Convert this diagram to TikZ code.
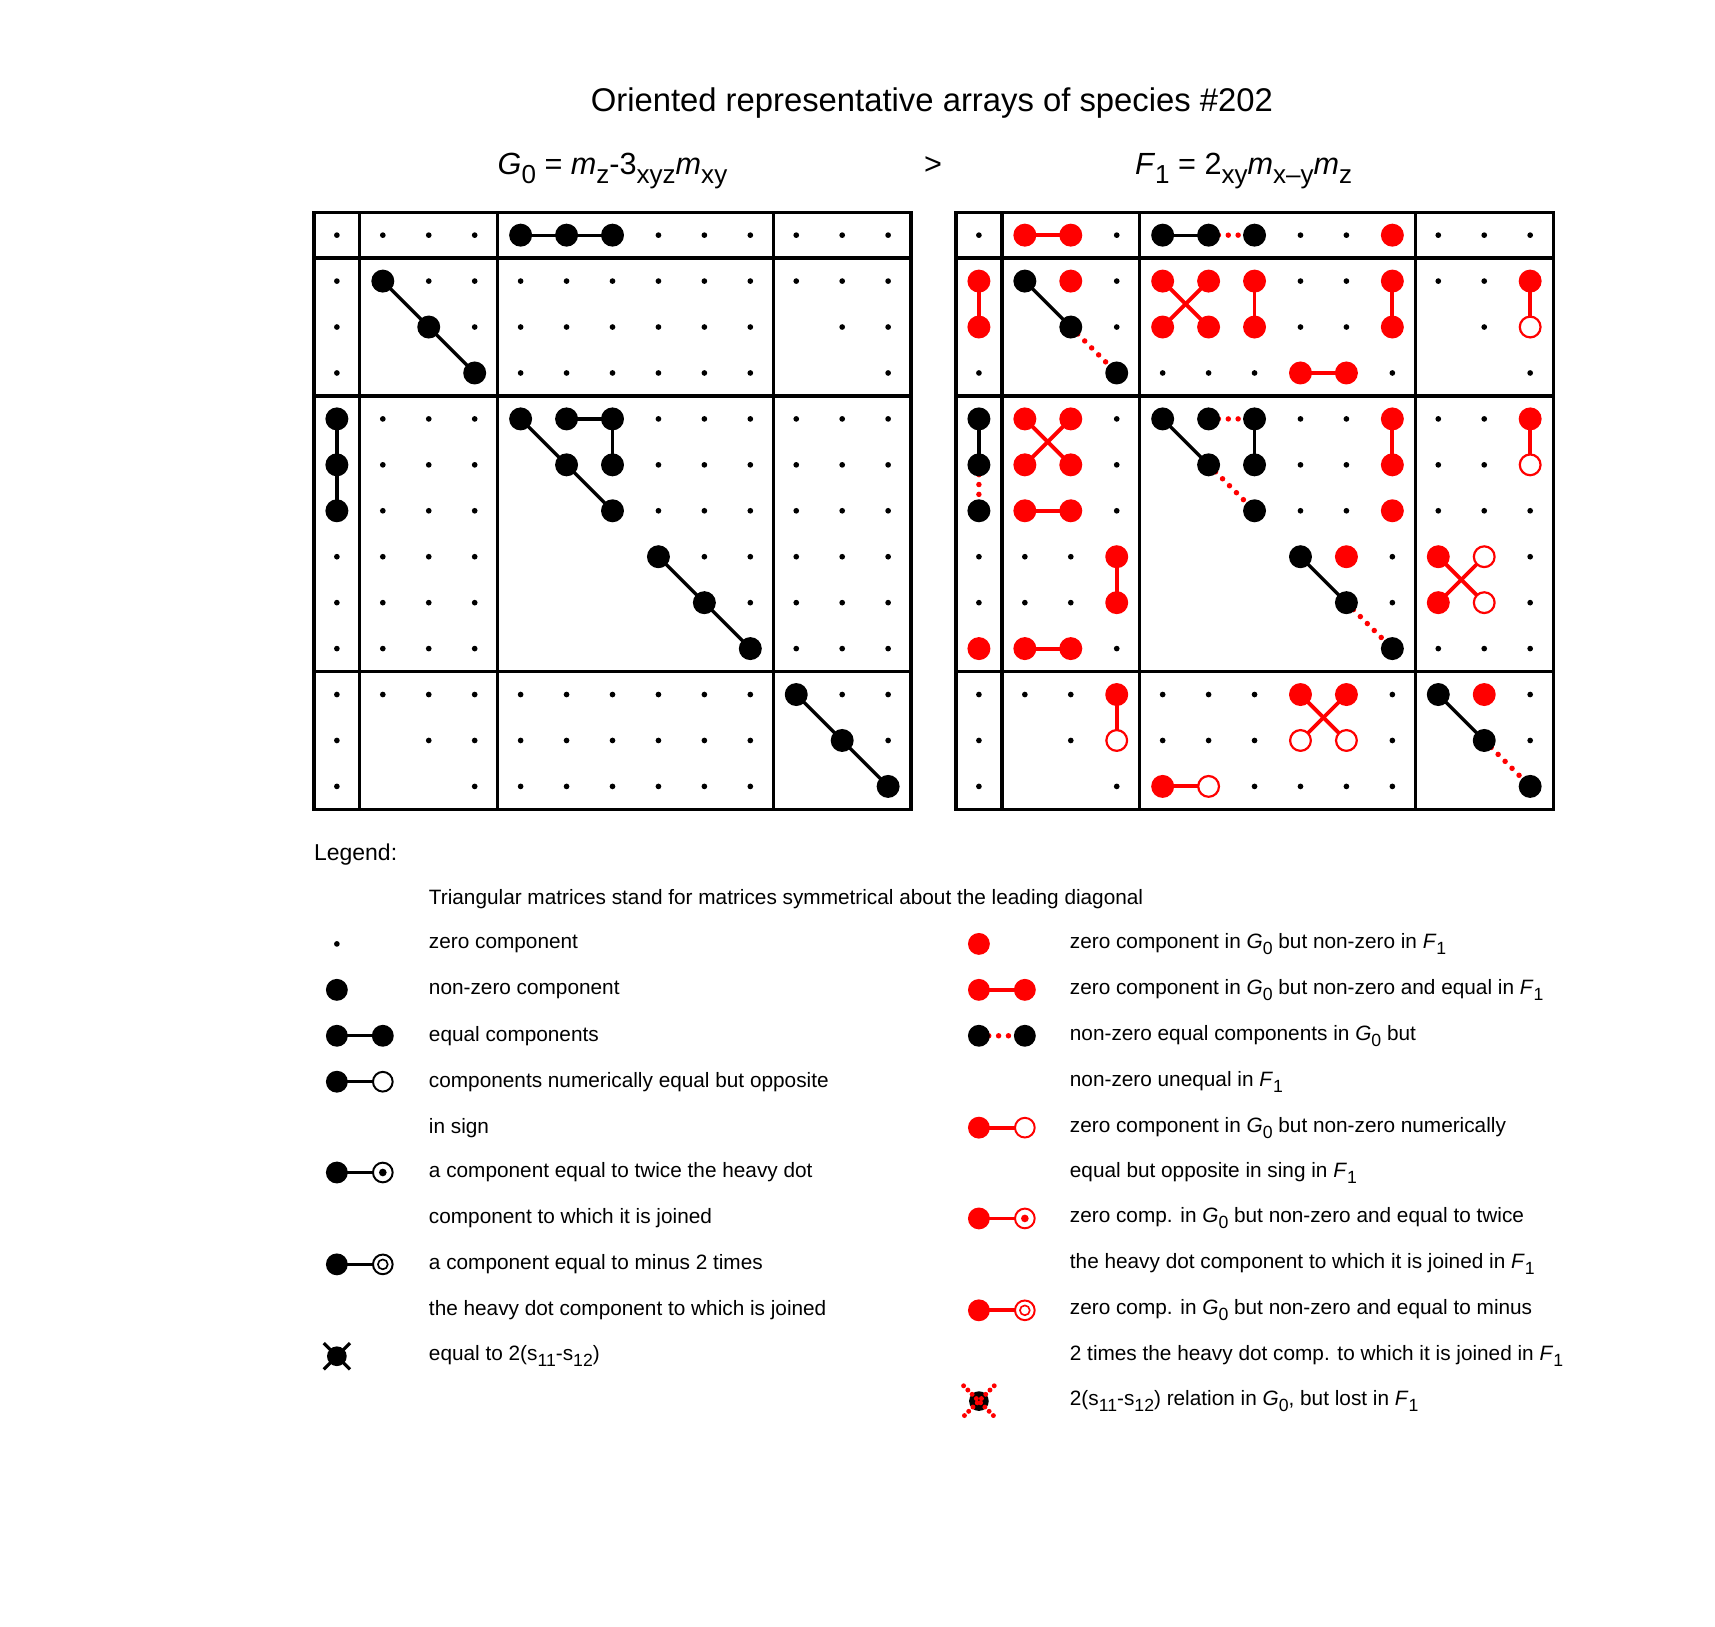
\documentclass[tikz,border=0pt]{standalone}
\usepackage{fontspec}
\setmainfont{Liberation Sans}
\newcommand\sbx[1]{\raisebox{-0.55ex}{\scalebox{0.85}{#1}}}
\newcommand\Pt[2]{({\xo+21+42*(#2)},{215+42*(#1)})}
\newcommand\BD[2]{\fill[black] \Pt{#1}{#2} circle (10.5);}
\newcommand\RD[2]{\fill[red] \Pt{#1}{#2} circle (10.5);}
\newcommand\RO[2]{\draw[red,line width=2,fill=white] \Pt{#1}{#2} circle (9.5);}
\newcommand\LB[4]{\draw[black,line width=3] \Pt{#1}{#2} -- \Pt{#3}{#4};}
\newcommand\LR[4]{\draw[red,line width=3.5] \Pt{#1}{#2} -- \Pt{#3}{#4};}
\newcommand\LD[4]{\draw[red,line width=5,line cap=round,dash pattern=on 0pt off 9pt] \Pt{#1}{#2} -- \Pt{#3}{#4};}
\newcommand\Matrix{%
  \foreach \r in {0,...,12}{\foreach \c in {0,...,12}{
    \pgfmathtruncatemacro\gr{(\r>0)+(\r>3)+(\r>9)}
    \pgfmathtruncatemacro\gc{(\c>0)+(\c>3)+(\c>9)}
    \pgfmathtruncatemacro\lr{\r-(\gr==1)-4*(\gr==2)-10*(\gr==3)}
    \pgfmathtruncatemacro\lc{\c-(\gc==1)-4*(\gc==2)-10*(\gc==3)}
    \pgfmathtruncatemacro\blank{and(\lr>\lc, or(and(\gr==\gc,\gr>0), \gr*\gc==3))}
    \ifnum\blank=0 \fill \Pt{\r}{\c} circle (2.6);\fi
  }}
  \draw[line width=3] (\xo,194) rectangle (\xo+546,740);
  \foreach \k in {42,168,420}{
    \draw[line width=3] (\xo+\k,194) -- (\xo+\k,740);
    \draw[line width=3] (\xo,194+\k) -- (\xo+546,194+\k);}
}
\begin{document}
\begin{tikzpicture}[x=1pt,y=-1pt]
\useasboundingbox (0,0) rectangle (1568,1487);
\node at (852,94) {\fontsize{30}{36}\selectfont Oriented representative arrays of species \#202};
\node[anchor=base] at (560,160) {\fontsize{28}{34}\selectfont \textit{G}\sbx{0} = \textit{m}\sbx{z}-3\sbx{xyz}\textit{m}\sbx{xy}};
\node[anchor=base] at (853,160) {\fontsize{28}{34}\selectfont >};
\node[anchor=base] at (1137,160) {\fontsize{28}{34}\selectfont \textit{F}\sbx{1} = 2\sbx{xy}\textit{m}\sbx{x\textendash y}\textit{m}\sbx{z}};
% left matrix
\def\xo{287}
\Matrix
\LB0406 \BD04 \BD05 \BD06
\LB1133 \BD11 \BD22 \BD33
\LB4060 \BD40 \BD50 \BD60
\LB4466 \LB4546 \LB4656 \BD44 \BD55 \BD66 \BD45 \BD46 \BD56
\LB7799 \BD77 \BD88 \BD99
\LB{10}{10}{12}{12} \BD{10}{10} \BD{11}{11} \BD{12}{12}
% right matrix
\def\xo{874}
\Matrix
\LR0102 \RD01 \RD02
\LB0405 \LD0506 \BD04 \BD05 \BD06 \RD09
\LR1020 \RD10 \RD20
\LB1122 \LD2233 \BD11 \BD22 \BD33 \RD12
\LR1425 \LR1524 \RD14 \RD15 \RD24 \RD25
\LR1626 \RD16 \RD26 \LR1929 \RD19 \RD29 \LR3738 \RD37 \RD38
\LR{1}{12}{2}{12} \RD{1}{12} \RO{2}{12}
\LB4050 \LD5060 \BD40 \BD50 \BD60 \RD90
\LR4152 \LR4251 \RD41 \RD42 \RD51 \RD52
\LR6162 \RD61 \RD62 \LR7383 \RD73 \RD83 \LR9192 \RD91 \RD92
\LB4455 \LD5566 \LD4546 \LB4656 \BD44 \BD55 \BD66 \BD45 \BD46 \BD56
\LR4959 \RD49 \RD59 \RD69
\LB7788 \LD8899 \BD77 \BD88 \BD99 \RD78
\LR{4}{12}{5}{12} \RD{4}{12} \RO{5}{12}
\LR{7}{10}{8}{11} \LR{8}{10}{7}{11} \RD{7}{10} \RD{8}{10} \RO{7}{11} \RO{8}{11}
\LR{10}{3}{11}{3} \RD{10}{3} \RO{11}{3}
\LR{10}{7}{11}{8} \LR{10}{8}{11}{7} \RD{10}{7} \RD{10}{8} \RO{11}{7} \RO{11}{8}
\LR{12}{4}{12}{5} \RD{12}{4} \RO{12}{5}
\LB{10}{10}{11}{11} \LD{11}{11}{12}{12} \BD{10}{10} \BD{11}{11} \BD{12}{12} \RD{10}{11}
% legend
\begin{scope}[every node/.style={anchor=west,font=\fontsize{19}{23}\selectfont,inner sep=0pt}]
\node at (287,781) {\fontsize{21}{25}\selectfont Legend:};
\node at (392,822) {Triangular matrices stand for matrices symmetrical about the leading diagonal};
\fill (308,863) circle (2.6); \node at (392,863) {zero component};
\fill (308,905) circle (10); \node at (392,905) {non-zero component};
\draw[line width=3] (308,947) -- (350,947); \fill (308,947) circle (10); \fill (350,947) circle (10);
\node at (392,947) {equal components};
\draw[line width=3] (308,989) -- (350,989); \fill (308,989) circle (10); \draw[line width=1.8,fill=white] (350,989) circle (9);
\node at (392,989) {components numerically equal but opposite};
\node at (392,1031) {in sign};
\draw[line width=3] (308,1072) -- (350,1072); \fill (308,1072) circle (10); \draw[line width=1.8,fill=white] (350,1072) circle (9); \fill (350,1072) circle (3.5);
\node at (392,1072) {a component equal to twice the heavy dot};
\node at (392,1114) {component to which it is joined};
\draw[line width=3] (308,1156) -- (350,1156); \fill (308,1156) circle (10); \draw[line width=1.8,fill=white] (350,1156) circle (9); \draw[line width=1.5] (350,1156) circle (4.5);
\node at (392,1156) {a component equal to minus 2 times};
\node at (392,1198) {the heavy dot component to which is joined};
\draw[line width=3] (296,1228) -- (320,1252) (320,1228) -- (296,1252); \fill (308,1240) circle (9);
\node at (392,1240) {equal to 2(s\sbx{11}-s\sbx{12})};
% right column
\fill[red] (895,863) circle (10); \node at (978,863) {zero component in \textit{G}\sbx{0} but non-zero in \textit{F}\sbx{1}};
\draw[red,line width=3.5] (895,905) -- (937,905); \fill[red] (895,905) circle (10) (937,905) circle (10);
\node at (978,905) {zero component in \textit{G}\sbx{0} but non-zero and equal in \textit{F}\sbx{1}};
\draw[red,line width=5,line cap=round,dash pattern=on 0pt off 9pt] (895,947) -- (937,947); \fill (895,947) circle (10) (937,947) circle (10);
\node at (978,947) {non-zero equal components in \textit{G}\sbx{0} but};
\node at (978,989) {non-zero unequal in \textit{F}\sbx{1}};
\draw[red,line width=3.5] (895,1031) -- (937,1031); \fill[red] (895,1031) circle (10); \draw[red,line width=1.8,fill=white] (937,1031) circle (9);
\node at (978,1031) {zero component in \textit{G}\sbx{0} but non-zero numerically};
\node at (978,1072) {equal but opposite in sing in \textit{F}\sbx{1}};
\draw[red,line width=3.5] (895,1114) -- (937,1114); \fill[red] (895,1114) circle (10); \draw[red,line width=1.8,fill=white] (937,1114) circle (9); \fill[red] (937,1114) circle (3.5);
\node at (978,1114) {zero comp. in \textit{G}\sbx{0} but non-zero and equal to twice};
\node at (978,1156) {the heavy dot component to which it is joined in \textit{F}\sbx{1}};
\draw[red,line width=3.5] (895,1198) -- (937,1198); \fill[red] (895,1198) circle (10); \draw[red,line width=1.8,fill=white] (937,1198) circle (9); \draw[red,line width=1.5] (937,1198) circle (4.5);
\node at (978,1198) {zero comp. in \textit{G}\sbx{0} but non-zero and equal to minus};
\node at (978,1240) {2 times the heavy dot comp. to which it is joined in \textit{F}\sbx{1}};
\fill (895,1281) circle (9);
\draw[red,line width=4.5,line cap=round,dash pattern=on 0pt off 5.5pt] (881,1267) -- (909,1295) (909,1267) -- (881,1295);
\node at (978,1281) {2(s\sbx{11}-s\sbx{12}) relation in \textit{G}\sbx{0}, but lost in \textit{F}\sbx{1}};
\end{scope}
\end{tikzpicture}
\end{document}
